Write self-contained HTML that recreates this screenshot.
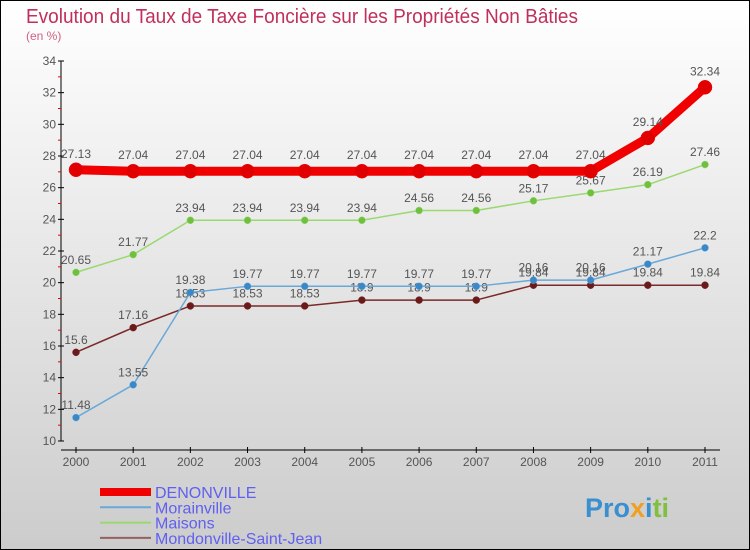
<!DOCTYPE html>
<html><head><meta charset="utf-8"><style>
body{margin:0}
#c{width:750px;height:550px;position:relative;font-family:"Liberation Sans",sans-serif}
</style></head><body>
<div id="c">
<svg id="s" width="750" height="550" xmlns="http://www.w3.org/2000/svg" style="position:absolute;left:0;top:0">
<defs><linearGradient id="bg" x1="0" y1="0" x2="0" y2="1"><stop offset="0" stop-color="#ffffff"/><stop offset="1" stop-color="#cccccc"/></linearGradient></defs>
<rect x="0.5" y="0.5" width="749" height="549" fill="url(#bg)" stroke="#000"/>
<text x="26" y="23" font-size="20" fill="#c0305a" textLength="552" lengthAdjust="spacingAndGlyphs">Evolution du Taux de Taxe Foncière sur les Propriétés Non Bâties</text>
<text x="26" y="40" font-size="12" fill="#d06080">(en %)</text>
<g id="axes"></g><g id="series"></g><g id="legend"></g>
<text x="585" y="517" font-size="27" font-weight="bold"><tspan fill="#3a8fd0">Pro</tspan><tspan fill="#f0a020">x</tspan><tspan fill="#3a8fd0">i</tspan><tspan fill="#80c040">ti</tspan></text>
</svg>
</div>
<script>
const years=["2000","2001","2002","2003","2004","2005","2006","2007","2008","2009","2010","2011"];
const yTicks=[10,12,14,16,18,20,22,24,26,28,30,32,34];
const denonville=[27.13,27.04,27.04,27.04,27.04,27.04,27.04,27.04,27.04,27.04,29.14,32.34];
const morainville=[11.48,13.55,19.38,19.77,19.77,19.77,19.77,19.77,20.16,20.16,21.17,22.2];
const maisons=[20.65,21.77,23.94,23.94,23.94,23.94,24.56,24.56,25.17,25.67,26.19,27.46];
const mondonville=[15.6,17.16,18.53,18.53,18.53,18.9,18.9,18.9,19.84,19.84,19.84,19.84];
const NS="http://www.w3.org/2000/svg";
const X=i=>76+i*(705-76)/11;
const Y=v=>441-(v-10)*(380/24);
function mk(t,a,p){const e=document.createElementNS(NS,t);for(const k in a)e.setAttribute(k,a[k]);p.appendChild(e);return e;}
const ax=document.getElementById('axes');
let yl=mk('line',{x1:61,y1:Y(34),x2:61,y2:Y(10),stroke:'#000'},ax);


yTicks.forEach(v=>{
 mk('line',{x1:58,y1:Y(v),x2:64,y2:Y(v),stroke:'#000'},ax);
 mk('line',{x1:58,y1:Y(v+1),x2:61,y2:Y(v+1),stroke:v<34?'#e00':'none'},ax);
 const t=mk('text',{x:56,y:Y(v)+4,'text-anchor':'end','font-size':12,fill:'#555'},ax);t.textContent=v;
 
 
});
let xl=mk('line',{x1:61,y1:450,x2:720,y2:450,stroke:'#000'},ax);


years.forEach((y,i)=>{
 mk('line',{x1:X(i),y1:447,x2:X(i),y2:453,stroke:'#000'},ax);
 const t=mk('text',{x:X(i),y:466,'text-anchor':'middle','font-size':12,fill:'#555'},ax);t.textContent=y;
 
 
});
const series=[
 {name:'mondonville',d:mondonville,c:'#7a2a2a',w:1.5,r:3.5,f:'#6a1a1a'},
 {name:'morainville',d:morainville,c:'#6aa8d8',w:1.5,r:3.5,f:'#3a88c8'},
 {name:'maisons',d:maisons,c:'#9ad870',w:1.5,r:3.5,f:'#70c040'},
 {name:'denonville',d:denonville,c:'#f00000',w:9,r:7,f:'#e00000'}];
const sg=document.getElementById('series');
series.forEach(s=>{
 const g=mk('g',{},sg);
 
 
 const p=mk('polyline',{points:s.d.map((v,i)=>X(i)+','+Y(v)).join(' '),fill:'none',stroke:s.c,'stroke-width':s.w,'stroke-linejoin':'round'},g);
 
 
 s.d.forEach((v,i)=>{
  const c=mk('circle',{cx:X(i),cy:Y(v),r:s.r,fill:s.f,stroke:s.c,'stroke-width':0.5},g);
  
  
  const t=mk('text',{x:X(i),y:Y(v)-(s.r+5),'text-anchor':'middle','font-size':12,fill:'#555'},g);
  t.textContent=String(v);
  
  
 });
});
const leg=[['DENONVILLE','#f00000',8],['Morainville','#6aa8d8',2],['Maisons','#9ad870',2],['Mondonville-Saint-Jean','#946060',2]];
const lg=document.getElementById('legend');
leg.forEach((l,i)=>{
 const y=492+i*15.3;
 const g=mk('g',{},lg);
 
 
 mk('line',{x1:100,y1:y,x2:151,y2:y,stroke:l[1],'stroke-width':l[2]},g);
 const t=mk('text',{x:155,y:y+6,'font-size':16,fill:'#6060f0'},g);t.textContent=l[0];
});
</script>
</body></html>
